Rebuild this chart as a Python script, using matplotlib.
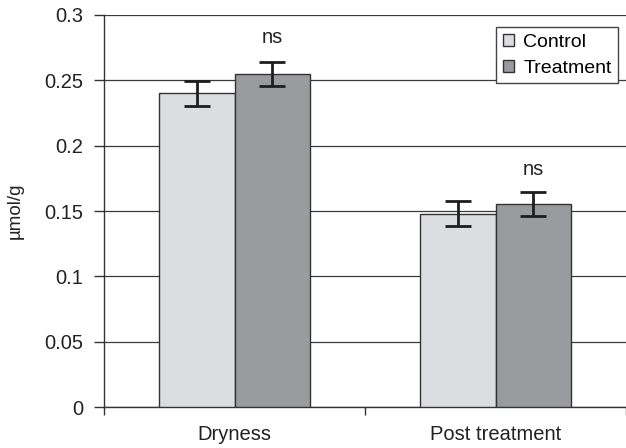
import matplotlib
matplotlib.use("Agg")
import matplotlib.pyplot as plt
import numpy as np

categories = ["Dryness", "Post treatment"]
series_names = ["Control", "Treatment"]
control = [0.240, 0.148]
control_err = [0.0095, 0.0097]
treatment = [0.255, 0.155]
treatment_err = [0.009, 0.0092]
annotations = ["ns", "ns"]
annot_y = [0.2824, 0.1814]
yticks = [0, 0.05, 0.1, 0.15, 0.2, 0.25, 0.3]
ytick_labels = ["0", "0.05", "0.1", "0.15", "0.2", "0.25", "0.3"]

plt.rcParams['font.family'] = ['Liberation Sans', 'DejaVu Sans']

fig = plt.figure(figsize=(6.26, 4.48), dpi=100)
ax = fig.add_axes([104/626, 41/448, 1 - 104/626, (407-15)/448])

x = np.arange(len(categories))
w = 0.289
c_ctrl = "#dcdde0"
c_trt = "#9a9b9e"
edge = "#333333"

ax.bar(x - w/2, control, w, color=c_ctrl, edgecolor=edge, linewidth=1.0, label=series_names[0], zorder=3)
ax.bar(x + w/2, treatment, w, color=c_trt, edgecolor=edge, linewidth=1.0, label=series_names[1], zorder=3)
ax.errorbar(x - w/2, control, yerr=control_err, fmt='none', ecolor="#1e1e1e", elinewidth=2, capsize=9.4, capthick=2, zorder=4)
ax.errorbar(x + w/2, treatment, yerr=treatment_err, fmt='none', ecolor="#1e1e1e", elinewidth=2, capsize=9.4, capthick=2, zorder=4)

for xi, txt, yv in zip(x, annotations, annot_y):
    ax.text(xi + w/2, yv, txt, ha='center', va='center', fontsize=14.5, color="#222222")

ax.set_xlim(-0.5, 1.481)
ax.set_ylim(0, 0.3)
ax.set_yticks(yticks)
ax.set_yticklabels(ytick_labels, fontsize=14.5, color="#222222")
ax.set_xticks(x)
ax.set_xticklabels(categories, fontsize=14.5, color="#222222")
ax.tick_params(axis='x', which='major', length=0, pad=13)
ax.set_xticks([-0.5, 0.5, 1.5], minor=True)
ax.tick_params(axis='x', which='minor', length=6, width=1, color="#333333", direction='out')
ax.tick_params(axis='y', which='major', length=7, width=1, color="#333333", direction='out', pad=8)

ax.yaxis.grid(True, color="#3a3a3a", linewidth=0.9, zorder=0)
ax.set_axisbelow(True)
for s in ['top', 'right']:
    ax.spines[s].set_visible(False)
for s in ['left', 'bottom']:
    ax.spines[s].set_color("#333333")
    ax.spines[s].set_linewidth(1.0)

ax.set_ylabel("µmol/g", fontsize=13.5, color="#222222")
ax.yaxis.set_label_coords(-(104-24)/(626-104), 0.5)

leg = ax.legend(loc='upper left', bbox_to_anchor=((496-104)/(626-104), 1 - (27-15)/392),
                fontsize=14, frameon=True, fancybox=False, handlelength=0.6, handleheight=0.6,
                handletextpad=0.45, borderpad=0.35, labelspacing=0.45, borderaxespad=0)
leg.get_frame().set_edgecolor("#444444")
leg.get_frame().set_linewidth(1.0)
leg.get_frame().set_facecolor("white")
leg.get_frame().set_alpha(1)

fig.savefig("out.png", dpi=100)
